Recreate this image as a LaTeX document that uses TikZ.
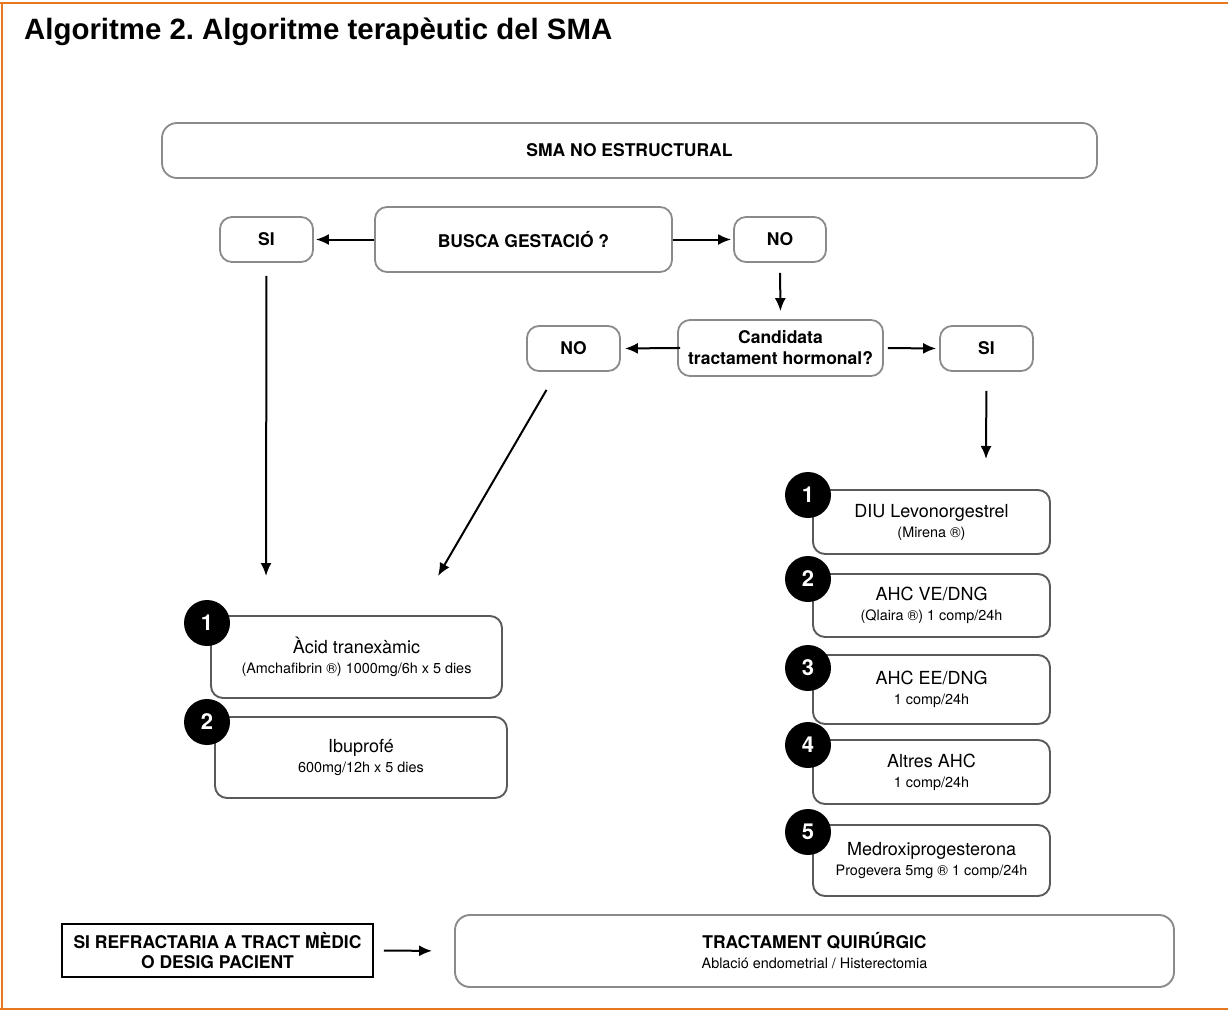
\documentclass[tikz,border=0pt]{standalone}
\usepackage{fontspec}
\setmainfont{TeX Gyre Heros}
\newfontfamily\titlefont{Liberation Sans}
\usetikzlibrary{arrows.meta}
\definecolor{frameorange}{HTML}{E87722}
\definecolor{lightbox}{HTML}{8A8A8A}
\definecolor{darkbox}{HTML}{5A5A5A}
\frenchspacing
\tikzset{
  topbox/.style={draw=lightbox, line width=1.8pt, rounded corners=12pt, inner sep=0pt, align=center,
    font=\fontsize{17.5}{21}\selectfont\bfseries},
  tbox/.style={draw=darkbox, line width=1.9pt, rounded corners=12pt, inner sep=0pt, align=center,
    font=\fontsize{14.4}{20}\selectfont},
  numc/.style={circle, fill=black, text=white, minimum size=46pt, inner sep=0pt,
    font=\fontsize{22}{24}\selectfont\bfseries},
  arr/.style={-{Latex[length=13pt,width=11pt]}, line width=2pt},
}
\newcommand{\mainln}[1]{{\fontsize{18}{20}\selectfont #1}}
\begin{document}
\begin{tikzpicture}[x=1pt,y=-1pt]
\useasboundingbox (0,0) rectangle (1228,1012);
% frame
\draw[frameorange, line width=2.2pt] (0,3) -- (1228,3);
\draw[frameorange, line width=2.2pt] (2,2) -- (2,1010);
\draw[frameorange, line width=2.2pt] (0,1009) -- (1228,1009);
% title
\node[anchor=base west, inner sep=0pt, font=\titlefont\fontsize{29.4}{32}\selectfont\bfseries] (title) at (24,39) {Algoritme 2. Algoritme terapèutic del SMA};
% top boxes
\node[topbox, rounded corners=15pt, minimum width=935pt, minimum height=55pt] (sma) at (629.5,150.5) {SMA NO ESTRUCTURAL};
\node[topbox, minimum width=93pt, minimum height=45pt] (si1) at (266.5,239.5) {SI};
\node[topbox, minimum width=297pt, minimum height=65pt] (busca) at (523.5,239.5) {BUSCA GESTACIÓ ?};
\node[topbox, minimum width=92pt, minimum height=45pt] (no1) at (780,239.5) {NO};
\node[topbox, minimum width=205pt, minimum height=56pt] (cand) at (780.5,348) {Candidata\\tractament hormonal?};
\node[topbox, minimum width=93pt, minimum height=45pt] (no2) at (573.5,348.5) {NO};
\node[topbox, minimum width=93pt, minimum height=45pt] (si2) at (986.5,348.5) {SI};
% left treatments
\node[tbox, minimum width=291pt, minimum height=82pt] (ta) at (356.5,657) {\mainln{Àcid tranexàmic}\\(Amchafibrin ®) 1000mg/6h x 5 dies};
\node[tbox, minimum width=292pt, minimum height=81pt] (tb) at (361,757.5) {\mainln{Ibuprofé}\\600mg/12h x 5 dies};
\node[numc] (na1) at (207,623) {1};
\node[numc] (na2) at (207,722) {2};
% right treatments
\node[tbox, minimum width=237pt, minimum height=64pt] (r1) at (931.5,522) {\mainln{DIU Levonorgestrel}\\(Mirena ®)};
\node[tbox, minimum width=237pt, minimum height=63pt] (r2) at (931.5,605.5) {\mainln{AHC VE/DNG}\\(Qlaira ®) 1 comp/24h};
\node[tbox, minimum width=237pt, minimum height=69pt] (r3) at (931.5,689.5) {\mainln{AHC EE/DNG}\\1 comp/24h};
\node[tbox, minimum width=237pt, minimum height=64pt] (r4) at (931.5,772) {\mainln{Altres AHC}\\1 comp/24h};
\node[tbox, minimum width=237pt, minimum height=71pt] (r5) at (931.5,860.5) {\mainln{Medroxiprogesterona}\\Progevera 5mg ® 1 comp/24h};
\node[numc] (nr1) at (808,495) {1};
\node[numc] (nr2) at (808,579) {2};
\node[numc] (nr3) at (808,668) {3};
\node[numc] (nr4) at (808,745) {4};
\node[numc] (nr5) at (808,832) {5};
% bottom
\node[draw=black, line width=1.9pt, inner sep=0pt, minimum width=311pt, minimum height=53pt, align=center,
  font=\fontsize{17.5}{20}\selectfont\bfseries] (refr) at (217.5,950.5) {SI REFRACTARIA A TRACT MÈDIC\\O DESIG PACIENT};
\node[tbox, draw=lightbox, rounded corners=15pt, minimum width=719pt, minimum height=72pt] (quir) at (814.5,951)
  {{\fontsize{17.5}{20}\selectfont\bfseries TRACTAMENT QUIRÚRGIC}\\Ablació endometrial / Histerectomia};
% free ends
\coordinate (endsi1) at (266,576);
\coordinate (endno2) at (438,576);
\coordinate (endsi2) at (986,459);
% connectors
\draw[arr, shorten >=2pt] (busca.west) -- (si1.east);
\draw[arr, shorten >=2pt] (busca.east) -- (no1.west);
\draw[arr, shorten <=10pt, shorten >=8pt] (no1.south) -- (cand.north);
\draw[arr, shorten <=-3pt, shorten >=4pt] (cand.west) -- (no2.east);
\draw[arr, shorten <=4pt, shorten >=3pt] (cand.east) -- (si2.west);
\draw[arr, shorten <=13pt] (si1.south) -- (endsi1);
\draw[arr] ([xshift=-27pt,yshift=-18pt]no2.south) -- (endno2);
\draw[arr, shorten <=19pt] (si2.south) -- (endsi2);
\draw[arr, shorten <=10pt, shorten >=22pt] (refr.east) -- (quir.west);
\end{tikzpicture}
\end{document}
